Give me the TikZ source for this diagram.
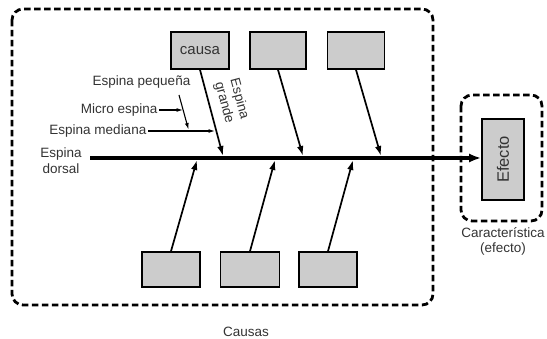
\documentclass[tikz,border=0pt]{standalone}
\usepackage{fontspec}
\setmainfont{Liberation Sans}
\usetikzlibrary{arrows.meta}

\tikzset{
  texto/.style={text=black!80, font=\fontsize{13.5}{15.5}\selectfont, inner sep=1.5pt, align=center},
  caja/.style={draw, line width=1.6pt, fill=black!20, minimum width=58pt, minimum height=37pt,
    text=black!80, font=\fontsize{15}{17}\selectfont, inner sep=0pt},
  marco/.style={line width=2.8pt, dash pattern=on 6.5pt off 3.5pt, rounded corners=11pt},
  hueso/.style={line width=1.7pt, -{Latex[length=10pt,width=6.5pt]}},
  espina/.style={line width=1.1pt, -{Latex[length=6.5pt,width=4pt]}},
}

\begin{document}
\begin{tikzpicture}[x=1pt, y=-1pt]
    \useasboundingbox (0,0) rectangle (547,339);
    % marcos punteados
    \draw[marco] (12,9) rectangle (433,305);
    \draw[marco] (461,95) rectangle (542,221);

    % cajas de causas
    \node[caja] (c1) at (200,50.5) {causa};
    \node[caja, minimum width=56pt] (c2) at (278,50.5) {};
    \node[caja, minimum width=57pt] (c3) at (356,50.5) {};
    \node[caja, minimum height=35pt] (c4) at (171,269.5) {};
    \node[caja, minimum height=35pt, minimum width=59pt] (c5) at (250,269.5) {};
    \node[caja, minimum height=35pt] (c6) at (328,269.5) {};
    \node[caja, rotate=90, minimum width=81pt, minimum height=42pt,
        font=\fontsize{16.5}{18}\selectfont] (efecto) at (503,159.5) {Efecto};

    % espina dorsal
    \coordinate (dorsal) at (90,158);
    \draw[line width=3.6pt, -{Latex[length=12pt,width=9pt]}] (dorsal) -- (dorsal -| efecto.north);

    % espinas grandes
    \coordinate (g1) at (223,156);
    \coordinate (g2) at (303,156);
    \coordinate (g3) at (381,156);
    \coordinate (g4) at (197,160);
    \coordinate (g5) at (275,160);
    \coordinate (g6) at (353,160);
    \draw[hueso] (c1.south) -- (g1);
    \draw[hueso] (c2.south) -- (g2);
    \draw[hueso] (c3.south) -- (g3);
    \draw[hueso] (c4.north) -- (g4);
    \draw[hueso] (c5.north) -- (g5);
    \draw[hueso] (c6.north) -- (g6);

    % espinas chicas
    \node[texto, anchor=east] (pequena) at (192,82) {Espina pequeña};
    \node[texto, anchor=east] (micro) at (159,110) {Micro espina};
    \node[texto, anchor=east] (mediana) at (148,131) {Espina mediana};
    \coordinate (p1) at (179,95);
    \coordinate (p2) at (188.5,129.5);
    \coordinate (m1) at (183,110);
    \coordinate (m2) at (215,131);
    \draw[espina] (p1) -- (p2);
    \draw[espina] (micro.east) -- (m1);
    \draw[espina] (mediana.east) -- (m2);

    \node[texto, rotate=-75, inner sep=0pt] (grande) at (231.5,101) {Espina\\grande};
    \node[texto] (dorsaltxt) at (61,160.5) {Espina\\dorsal};
    \node[texto] (caract) at (503,241.5) {Característica\\(efecto)};
    \node[texto] (causas) at (246,332) {Causas};
\end{tikzpicture}
\end{document}
